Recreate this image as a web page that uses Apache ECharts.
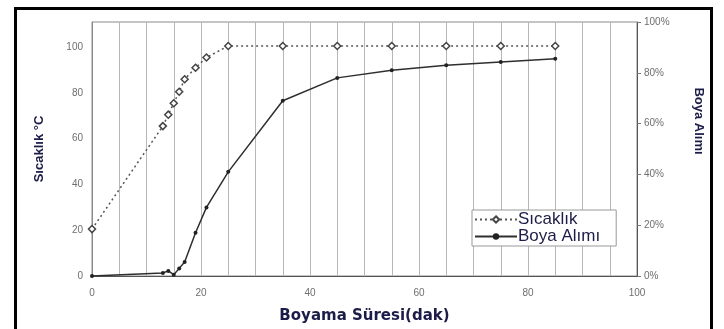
<!DOCTYPE html>
<html><head><meta charset="utf-8">
<script src="https://cdn.jsdelivr.net/npm/echarts@6/dist/echarts.min.js"></script>
<style>html,body{margin:0;padding:0;background:#fff}#c{width:724px;height:329px}</style>
</head><body><div id="c"></div>
<script>
const sicaklikX = [0, 13, 14, 15, 16, 17, 19, 21, 25, 35, 45, 55, 65, 75, 85];
const sicaklikY = [20.5, 65.5, 70.5, 75.5, 80.5, 86, 91, 95.5, 100.5, 100.5, 100.5, 100.5, 100.5, 100.5, 100.5];
const boyaX = [0, 13, 14, 15, 16, 17, 19, 21, 25, 35, 45, 55, 65, 75, 85];
const boyaY = [0, 1.2, 2, 0.5, 3, 5.5, 17, 27, 41, 69, 78, 81, 83, 84.3, 85.5];
const xTicks = [0, 20, 40, 60, 80, 100];
const leftTicks = [0, 20, 40, 60, 80, 100];
const rightTicks = [0, 20, 40, 60, 80, 100];

const titleColor = '#1c1c48';
const tickColor = '#6e6e6e';
const chart = echarts.init(document.getElementById('c'));
chart.setOption({
  animation: false,
  backgroundColor: '#fff',
  grid: {left: 92, right: 87, top: 22, bottom: 51, show: true, borderColor: '#8a8a8a', borderWidth: 1},
  xAxis: {
    type: 'value', min: 0, max: 100, interval: 5,
    name: 'Boyama Süresi(dak)', nameLocation: 'middle', nameGap: 33,
    nameTextStyle: {fontFamily: 'DejaVu Sans', fontWeight: 'bold', fontSize: 15, color: titleColor},
    axisLine: {show: true, lineStyle: {color: '#555', width: 1}},
    axisTick: {show: false},
    axisLabel: {margin: 12, fontSize: 10, color: tickColor, fontFamily: 'Liberation Sans',
      formatter: v => xTicks.includes(v) ? String(v) : ''},
    splitLine: {show: true, lineStyle: {color: '#bcb6b0', width: 1}}
  },
  yAxis: [{
    type: 'value', min: 0, max: 111, interval: 20, position: 'left',
    name: 'Sıcaklık °C', nameLocation: 'middle', nameGap: 46,
    nameTextStyle: {fontFamily: 'Liberation Sans', fontWeight: 'bold', fontSize: 13, color: titleColor},
    axisLine: {show: true, lineStyle: {color: '#8a8a8a'}},
    axisTick: {show: false},
    axisLabel: {margin: 9, fontSize: 10, color: tickColor, fontFamily: 'Liberation Sans',
      formatter: v => leftTicks.includes(v) ? String(v) : ''},
    splitLine: {show: false}
  }, {
    type: 'value', min: 0, max: 100, interval: 20, position: 'right',
    axisLine: {show: true, lineStyle: {color: '#555'}},
    axisTick: {show: true, length: 4, inside: false, lineStyle: {color: '#777'}},
    axisLabel: {margin: 7, fontSize: 10, color: tickColor, fontFamily: 'Liberation Sans',
      formatter: v => rightTicks.includes(v) ? v + '%' : ''},
    splitLine: {show: false}
  }],
  legend: {
    left: 472, top: 210, orient: 'vertical',
    padding: [1, 16, 1, 2], itemGap: 0, itemWidth: 42, itemHeight: 8,
    borderColor: '#999', borderWidth: 1, backgroundColor: '#fff',
    textStyle: {fontFamily: 'Liberation Sans', fontSize: 17, color: titleColor, padding: [0, 0, 0, -4]},
    data: ['Sıcaklık', 'Boya Alımı']
  },
  series: [{
    name: 'Sıcaklık', type: 'line', yAxisIndex: 0,
    data: sicaklikX.map((x, i) => [x, sicaklikY[i]]),
    symbol: 'diamond', symbolSize: 7, showAllSymbol: true,
    lineStyle: {color: '#555', width: 1.5, type: [2, 3]},
    itemStyle: {color: '#fff', borderColor: '#444', borderWidth: 1.5}
  }, {
    name: 'Boya Alımı', type: 'line', yAxisIndex: 1,
    data: boyaX.map((x, i) => [x, boyaY[i]]),
    symbol: 'circle', symbolSize: 4, showAllSymbol: true,
    lineStyle: {color: '#2e2e2e', width: 1.5},
    itemStyle: {color: '#222', borderColor: '#222', borderWidth: 0}
  }],
  graphic: [{
    type: 'text', x: 699, y: 121, rotation: -Math.PI / 2,
    style: {text: 'Boya Alımı', fontFamily: 'Liberation Sans', fontWeight: 'bold', fontSize: 13,
      fill: titleColor, align: 'center', verticalAlign: 'middle'}
  }, {
    type: 'rect', shape: {x: 15.5, y: 8.5, width: 696, height: 340},
    style: {fill: 'none', stroke: '#000', lineWidth: 3}, silent: true, z: 100
  }]
});
</script></body></html>
